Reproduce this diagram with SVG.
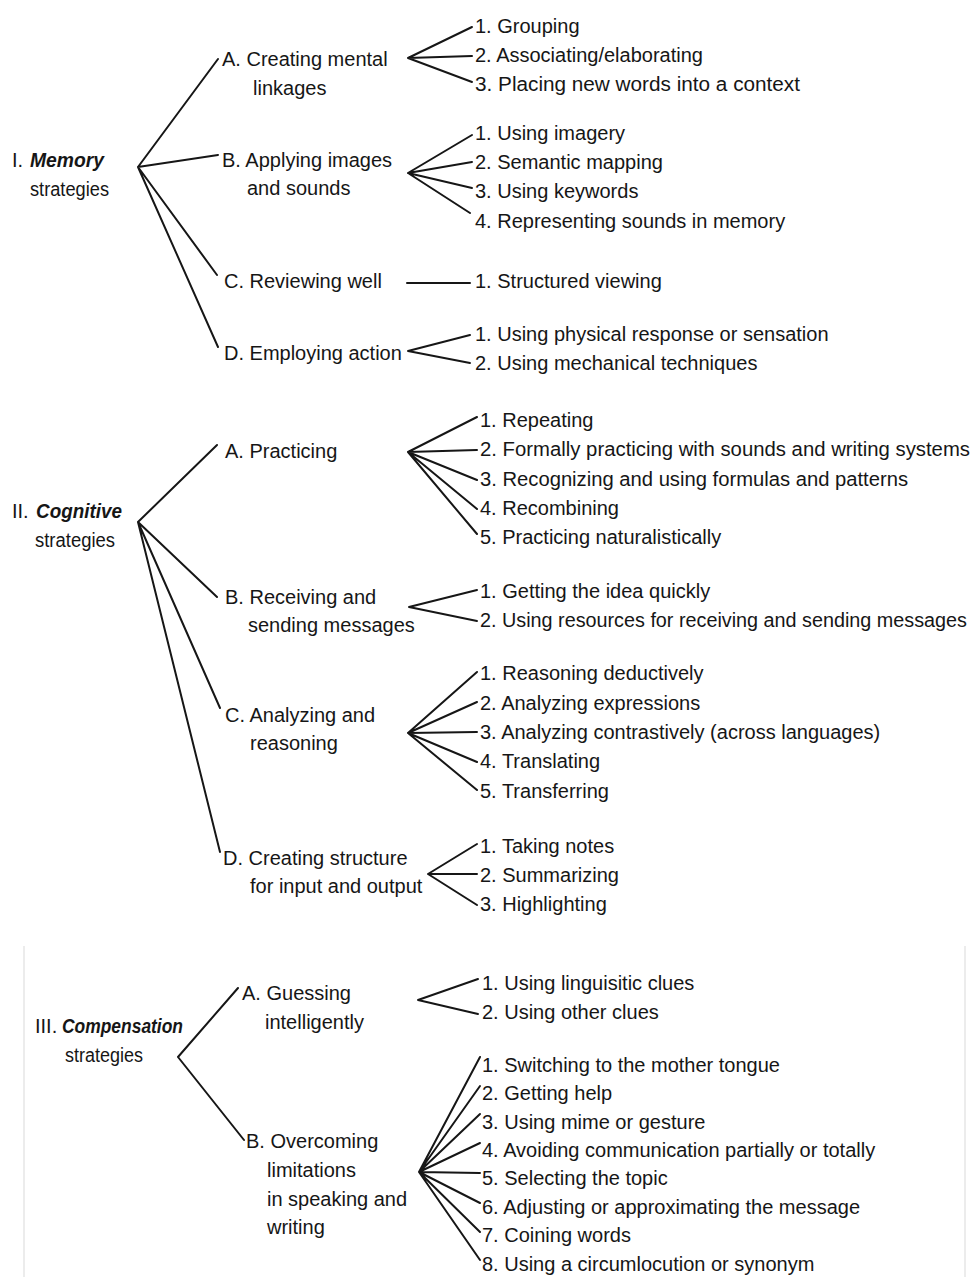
<svg xmlns="http://www.w3.org/2000/svg" width="974" height="1277" viewBox="0 0 974 1277">
<style>
.t{font-family:"Liberation Sans",Arial,sans-serif;font-size:20px;fill:#161616}
.em{font-style:italic;font-weight:bold}
.c{stroke:#161616;stroke-width:2;fill:none;stroke-linecap:round}
.b{stroke:#ececec;stroke-width:2;fill:none}
</style>
<rect width="974" height="1277" fill="#ffffff"/>
<g id="frame"><path class="b" d="M24 946V1277M965 946V1277"/></g>
<g id="connectors">
<path class="c" d="M138 167L218 59M138 167L218 155M138 167L217 275M138 167L218 347"/>
<path class="c" d="M408 58L472 27M408 58L472 56M408 58L472 82"/>
<path class="c" d="M408 173L472 135M408 173L472 162M408 173L472 188M408 173L470 213"/>
<path class="c" d="M407 283L470 283"/>
<path class="c" d="M408 351L470 335M408 351L470 363"/>
<path class="c" d="M138 522L217 445M138 522L217 597M138 522L220 708M138 522L220 852"/>
<path class="c" d="M408 452L477 417M408 452L477 450M408 452L477 480M408 452L477 509M408 452L477 534"/>
<path class="c" d="M409 607L477 590M409 607L477 621"/>
<path class="c" d="M408 733L477 672M408 733L477 702M408 733L477 732M408 733L477 762M408 733L477 790"/>
<path class="c" d="M428 874L477 844M428 874L477 874M428 874L477 905"/>
<path class="c" d="M178 1057L238 988M178 1057L244 1140"/>
<path class="c" d="M418 1000L478 979M418 1000L478 1014"/>
<path class="c" d="M419 1172L480 1057M419 1172L480 1086M419 1172L480 1114M419 1172L480 1143M419 1172L480 1173M419 1172L480 1203M419 1172L480 1232M419 1172L480 1260"/>
</g>
<g id="memory"><text class="t" x="12" y="167">I.</text><text class="t em" x="30" y="167" textLength="74" lengthAdjust="spacingAndGlyphs">Memory</text><text class="t" x="30" y="196" textLength="79" lengthAdjust="spacingAndGlyphs">strategies</text></g>
<g id="mem-a"><text class="t" x="222" y="66">A. Creating mental</text><text class="t" x="253" y="95">linkages</text></g>
<g id="mem-a-items">
<text class="t" x="475" y="33">1. Grouping</text>
<text class="t" x="475" y="62">2. Associating/elaborating</text>
<text class="t" x="475" y="91" textLength="325" lengthAdjust="spacingAndGlyphs">3. Placing new words into a context</text>
</g>
<g id="mem-b"><text class="t" x="222" y="167">B. Applying images</text><text class="t" x="247" y="195">and sounds</text></g>
<g id="mem-b-items">
<text class="t" x="475" y="140">1. Using imagery</text>
<text class="t" x="475" y="169">2. Semantic mapping</text>
<text class="t" x="475" y="198">3. Using keywords</text>
<text class="t" x="475" y="228">4. Representing sounds in memory</text>
</g>
<g id="mem-c"><text class="t" x="224" y="288">C. Reviewing well</text></g>
<g id="mem-c-items"><text class="t" x="475" y="288">1. Structured viewing</text></g>
<g id="mem-d"><text class="t" x="224" y="360">D. Employing action</text></g>
<g id="mem-d-items">
<text class="t" x="475" y="341">1. Using physical response or sensation</text>
<text class="t" x="475" y="370">2. Using mechanical techniques</text>
</g>
<g id="cognitive"><text class="t" x="12" y="518">II.</text><text class="t em" x="36" y="518" textLength="86" lengthAdjust="spacingAndGlyphs">Cognitive</text><text class="t" x="35" y="547" textLength="80" lengthAdjust="spacingAndGlyphs">strategies</text></g>
<g id="cog-a"><text class="t" x="225" y="458">A. Practicing</text></g>
<g id="cog-a-items">
<text class="t" x="480" y="427">1. Repeating</text>
<text class="t" x="480" y="456" textLength="490" lengthAdjust="spacingAndGlyphs">2. Formally practicing with sounds and writing systems</text>
<text class="t" x="480" y="486" textLength="428" lengthAdjust="spacingAndGlyphs">3. Recognizing and using formulas and patterns</text>
<text class="t" x="480" y="515">4. Recombining</text>
<text class="t" x="480" y="544">5. Practicing naturalistically</text>
</g>
<g id="cog-b"><text class="t" x="225" y="604">B. Receiving and</text><text class="t" x="248" y="632">sending messages</text></g>
<g id="cog-b-items">
<text class="t" x="480" y="598">1. Getting the idea quickly</text>
<text class="t" x="480" y="627" textLength="487" lengthAdjust="spacingAndGlyphs">2. Using resources for receiving and sending messages</text>
</g>
<g id="cog-c"><text class="t" x="225" y="722">C. Analyzing and</text><text class="t" x="250" y="750">reasoning</text></g>
<g id="cog-c-items">
<text class="t" x="480" y="680">1. Reasoning deductively</text>
<text class="t" x="480" y="710">2. Analyzing expressions</text>
<text class="t" x="480" y="739">3. Analyzing contrastively (across languages)</text>
<text class="t" x="480" y="768">4. Translating</text>
<text class="t" x="480" y="798">5. Transferring</text>
</g>
<g id="cog-d"><text class="t" x="223" y="865">D. Creating structure</text><text class="t" x="250" y="893">for input and output</text></g>
<g id="cog-d-items">
<text class="t" x="480" y="853">1. Taking notes</text>
<text class="t" x="480" y="882">2. Summarizing</text>
<text class="t" x="480" y="911">3. Highlighting</text>
</g>
<g id="compensation"><text class="t" x="35" y="1033">III.</text><text class="t em" x="62" y="1033" textLength="121" lengthAdjust="spacingAndGlyphs">Compensation</text><text class="t" x="65" y="1062" textLength="78" lengthAdjust="spacingAndGlyphs">strategies</text></g>
<g id="comp-a"><text class="t" x="242" y="1000">A. Guessing</text><text class="t" x="265" y="1029">intelligently</text></g>
<g id="comp-a-items">
<text class="t" x="482" y="990">1. Using linguisitic clues</text>
<text class="t" x="482" y="1019">2. Using other clues</text>
</g>
<g id="comp-b"><text class="t" x="246" y="1148">B. Overcoming</text><text class="t" x="267" y="1177">limitations</text><text class="t" x="267" y="1206">in speaking and</text><text class="t" x="267" y="1234">writing</text></g>
<g id="comp-b-items">
<text class="t" x="482" y="1072">1. Switching to the mother tongue</text>
<text class="t" x="482" y="1100">2. Getting help</text>
<text class="t" x="482" y="1129">3. Using mime or gesture</text>
<text class="t" x="482" y="1157">4. Avoiding communication partially or totally</text>
<text class="t" x="482" y="1185">5. Selecting the topic</text>
<text class="t" x="482" y="1214">6. Adjusting or approximating the message</text>
<text class="t" x="482" y="1242">7. Coining words</text>
<text class="t" x="482" y="1271">8. Using a circumlocution or synonym</text>
</g>
</svg>
